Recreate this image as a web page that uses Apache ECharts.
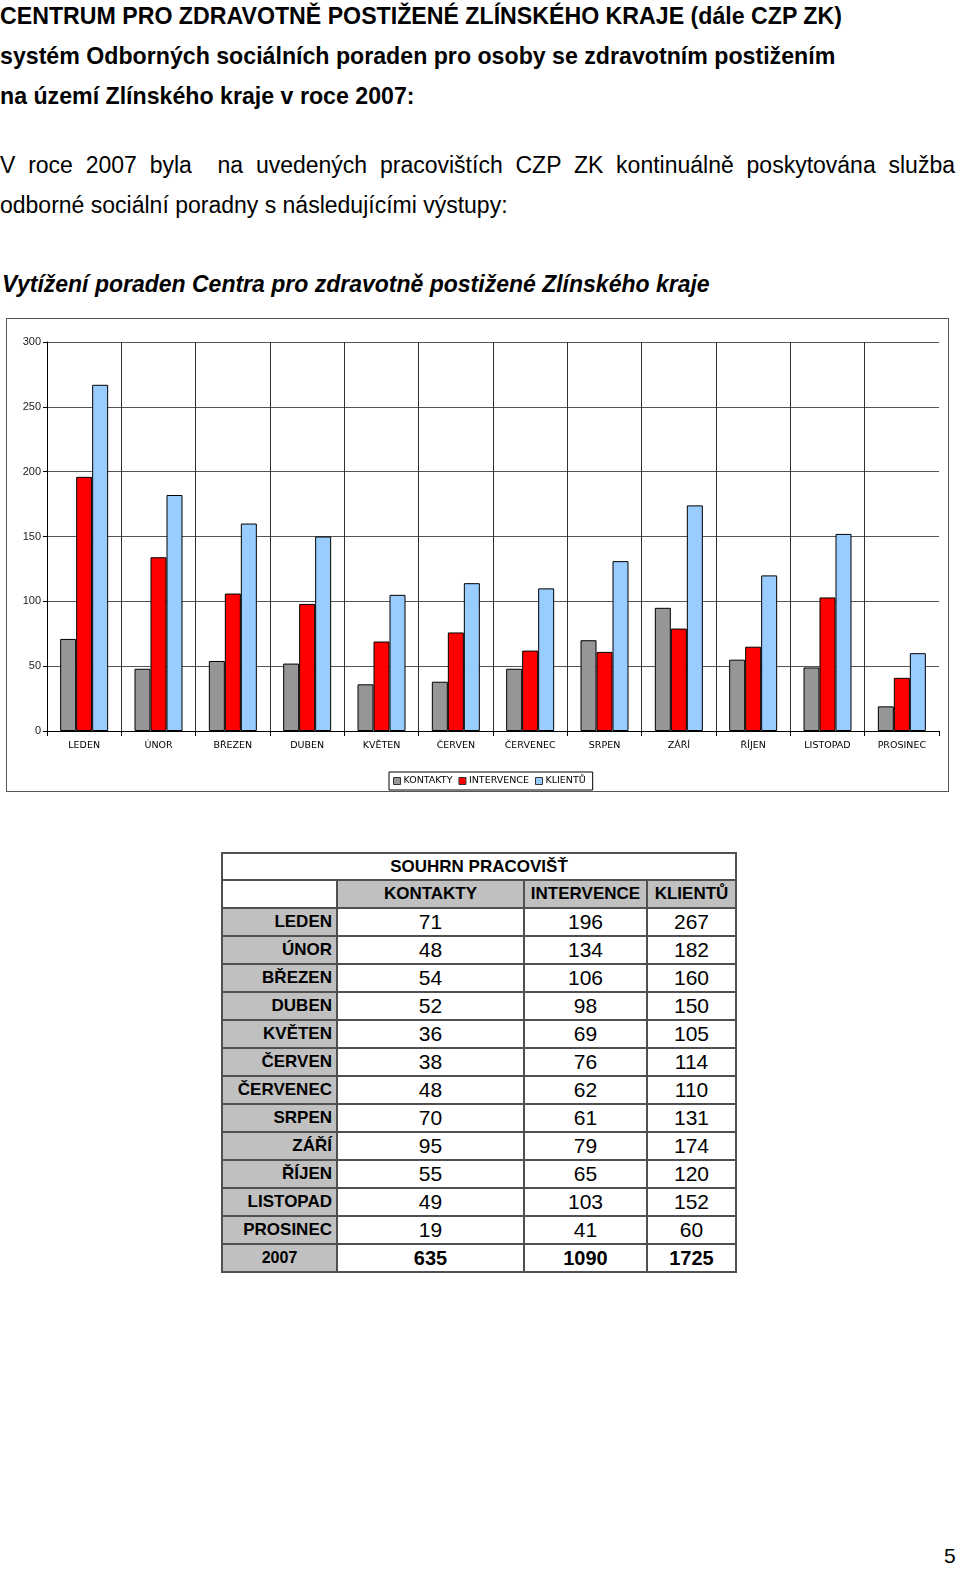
<!DOCTYPE html>
<html><head><meta charset="utf-8">
<script src="https://cdn.jsdelivr.net/npm/echarts@6/dist/echarts.min.js"></script>
<style>
html,body{margin:0;padding:0;background:#fff;}
body{width:960px;height:1574px;position:relative;overflow:hidden;font-family:"Liberation Sans",Arial,sans-serif;color:#000;}
.t{position:absolute;left:0;white-space:nowrap;}
.h{font-weight:bold;font-size:24px;transform:scaleX(0.965);transform-origin:0 0;}
.p{font-size:23px;}
#chartBox{position:absolute;left:6px;top:318px;width:943px;height:474px;border:1px solid #555;box-sizing:border-box;}
#chart{position:absolute;left:0;top:0;width:941px;height:472px;}
table{position:absolute;left:221px;top:852px;border-collapse:collapse;table-layout:fixed;width:514px;}
td{border:2px solid #505050;height:26px;padding:0 4px;line-height:26px;overflow:hidden;white-space:nowrap;}
td.lab{background:#c0c0c0;font-weight:bold;font-size:17px;text-align:right;}
td.hd{background:#c0c0c0;font-weight:bold;font-size:17px;text-align:center;padding:0;}
td.v{font-size:21px;text-align:center;}
td.tv{font-size:20px;text-align:center;font-weight:bold;}
</style></head>
<body>
<div class="t h" style="top:2px;">CENTRUM PRO ZDRAVOTNĚ POSTIŽENÉ ZLÍNSKÉHO KRAJE (dále CZP ZK)</div>
<div class="t h" style="top:42px;">systém Odborných sociálních poraden pro osoby se zdravotním postižením</div>
<div class="t h" style="top:82px;">na území Zlínského kraje v roce 2007:</div>
<div class="t p" style="top:152px;width:955px;text-align:justify;text-align-last:justify;white-space:normal;">V roce 2007 byla &nbsp;na uvedených pracovištích CZP ZK kontinuálně poskytována služba</div>
<div class="t p" style="top:192px;">odborné sociální poradny s následujícími výstupy:</div>
<div class="t" style="top:271px;left:2px;font-size:23px;font-weight:bold;font-style:italic;">Vytížení poraden Centra pro zdravotně postižené Zlínského kraje</div>
<div id="chartBox"><div id="chart"></div></div>
<table id="tbl"></table>
<div class="t" style="top:1544px;left:944px;font-size:21px;">5</div>
<script>
var months = ['LEDEN','ÚNOR','BŘEZEN','DUBEN','KVĚTEN','ČERVEN','ČERVENEC','SRPEN','ZÁŘÍ','ŘÍJEN','LISTOPAD','PROSINEC'];
var kontakty = [71,48,54,52,36,38,48,70,95,55,49,19];
var intervence = [196,134,106,98,69,76,62,61,79,65,103,41];
var klientu = [267,182,160,150,105,114,110,131,174,120,152,60];
var totals = [635,1090,1725];
var seriesNames = ['KONTAKTY','INTERVENCE','KLIENTŮ'];
var tableTitle = 'SOUHRN PRACOVIŠŤ';
var totalLabel = '2007';
var yTicks = {min:0,max:300,interval:50};

// table
var tbl = document.getElementById('tbl');
var html = '<colgroup><col style="width:115px"><col style="width:187px"><col style="width:123px"><col style="width:89px"></colgroup>';
html += '<tr><td colspan="4" style="text-align:center;font-weight:bold;font-size:17px;height:25px;line-height:25px;padding:0;">'+tableTitle+'</td></tr>';
html += '<tr><td></td><td class="hd">'+seriesNames[0]+'</td><td class="hd">'+seriesNames[1]+'</td><td class="hd">'+seriesNames[2]+'</td></tr>';
for (var i=0;i<months.length;i++){
  html += '<tr><td class="lab">'+months[i]+'</td><td class="v">'+kontakty[i]+'</td><td class="v">'+intervence[i]+'</td><td class="v">'+klientu[i]+'</td></tr>';
}
html += '<tr><td class="lab" style="text-align:center;font-size:16px;">'+totalLabel+'</td><td class="tv">'+totals[0]+'</td><td class="tv">'+totals[1]+'</td><td class="tv">'+totals[2]+'</td></tr>';
tbl.innerHTML = html;

var chart = echarts.init(document.getElementById('chart'), null, {renderer:'canvas'});
var colors = ['#969696','#ff0000','#99ccff'];
function mk(name, data, c){
  return {name:name,type:'bar',data:data,barWidth:16,barGap:'0%',
    itemStyle:{color:c,borderColor:'#000',borderWidth:1}};
}
chart.setOption({
  animation:false,
  grid:{left:40,right:9,top:23,bottom:60},
  legend:{left:382,top:453,itemWidth:7,itemHeight:7,itemGap:6,
    borderColor:'#000',borderWidth:1,padding:[4,7,4,4],
    icon:'rect',
    textStyle:{fontSize:9.5,color:'#000',fontFamily:'DejaVu Sans',padding:[0,0,0,-2]},
    data:seriesNames.map(function(n,i){return {name:n,itemStyle:{color:colors[i],borderColor:'#333',borderWidth:1}};})},
  xAxis:{type:'category',data:months,
    axisLine:{lineStyle:{color:'#000',width:1}},
    axisTick:{show:true,length:5,lineStyle:{color:'#000'}},
    axisLabel:{fontSize:9.5,color:'#000',margin:10,fontFamily:'DejaVu Sans',interval:0},
    splitLine:{show:true,showMaxLine:false,lineStyle:{color:'#333',width:1}}},
  yAxis:{type:'value',min:yTicks.min,max:yTicks.max,interval:yTicks.interval,
    axisLine:{show:true,lineStyle:{color:'#000'}},
    axisTick:{show:true,length:4,lineStyle:{color:'#000'}},
    axisLabel:{fontSize:11,color:'#222',margin:6,fontFamily:'Liberation Sans'},
    splitLine:{show:true,lineStyle:{color:'#555',width:1}}},
  series:[mk(seriesNames[0],kontakty,colors[0]),mk(seriesNames[1],intervence,colors[1]),mk(seriesNames[2],klientu,colors[2])]
});
</script>
</body></html>
